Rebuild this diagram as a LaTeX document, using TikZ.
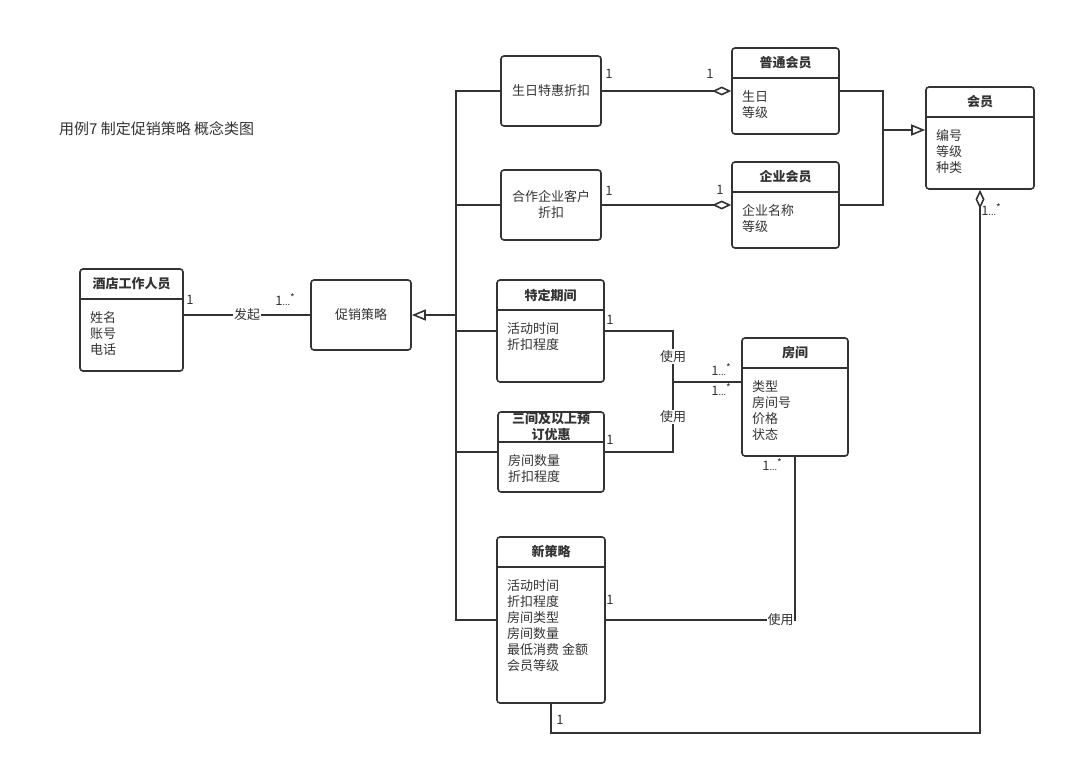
\documentclass[tikz,border=0pt]{standalone}
\usepackage{fontspec}
\setmainfont{Noto Sans CJK SC}
\usetikzlibrary{arrows.meta,fit}
\definecolor{ink}{HTML}{333333}
% multiplicity "1...*"
\newcommand\manyof{1\raisebox{0pt}{\fontsize{9}{9}\selectfont...}\raisebox{4pt}{\fontsize{10}{10}\selectfont *}}
% UML class: name, x1, y1, x2, y2, separator y, title, attributes
\newcommand\umlclass[8]{%
  \node[box, fit={(#2,#3) (#4,#5)}] (#1) {};
  \draw[line] (#2,#6) -- (#4,#6);
  \node[ttl, align=center] (#1-t) at ({(#2+#4)/2},{(#3+#6)/2}) {#7};
  \node[txt, align=left, anchor=north west] (#1-a) at (#2+10,#6+12) {#8};
}
\tikzset{
  box/.style={draw=ink, line width=1.6pt, rounded corners=3pt, inner sep=0pt},
  line/.style={draw=ink, line width=1.6pt},
  txt/.style={text=ink, font=\fontsize{13}{16}\selectfont, inner sep=0pt},
  ttl/.style={text=ink, font=\fontsize{13}{16}\selectfont\bfseries, inner sep=0pt},
  lbl/.style={txt, fill=white, inner sep=1pt},
  gen/.style={-{Triangle[open, length=14pt, width=11pt]}},
  agg/.style={{Diamond[open, length=19pt, width=9pt]}-},
  aggend/.style={-{Diamond[open, length=19pt, width=9pt]}},
}
\begin{document}
\begin{tikzpicture}[x=1pt, y=-1pt]
\useasboundingbox (0,0) rectangle (1066,765);

\node[txt, anchor=west, font=\fontsize{15}{18}\selectfont] (heading) at (59,129) {用例7 制定促销策略 概念类图};

% classes
\umlclass{staff}{80}{269}{183}{371}{299}{酒店工作人员}{姓名\\账号\\电话}
\umlclass{ordinary}{732}{48}{839}{134}{78}{普通会员}{生日\\等级}
\umlclass{corpm}{732}{162}{839}{248}{192}{企业会员}{企业名称\\等级}
\umlclass{member}{926}{87}{1034}{189}{117}{会员}{编号\\等级\\种类}
\umlclass{period}{497}{280}{604}{382}{310}{特定期间}{活动时间\\折扣程度}
\umlclass{multi}{498}{412}{604}{492}{442}{三间及以上预\\订优惠}{房间数量\\折扣程度}
\umlclass{room}{742}{338}{848}{456}{368}{房间}{类型\\房间号\\价格\\状态}
\umlclass{newp}{497}{537}{605}{703}{567}{新策略}{活动时间\\折扣程度\\房间类型\\房间数量\\最低消费 金额\\会员等级}

% plain boxes
\node[box, txt, draw=ink, minimum width=100, minimum height=70] (promo) at (361,315) {促销策略};
\node[box, txt, draw=ink, minimum width=100, minimum height=70] (bday) at (551,91) {生日特惠折扣};
\node[box, txt, draw=ink, minimum width=100, minimum height=70, align=center] (corp) at (551,205) {合作企业客户\\折扣};

% staff -- promotion
\draw[line] (staff.east |- promo.west) -- (promo.west)
  node[lbl, pos=0.5] (lfaqi) {发起};
\node[txt] (m1) at (190,300) {1};
\node[txt] (m2) at (285,300) {\manyof};

% promotion subclasses via trunk
\coordinate (trunk) at (456,315);
\draw[line] (bday.west) -| (trunk);
\draw[line] (corp.west) -| (trunk);
\draw[line] (period.west) -| (trunk);
\draw[line] (multi.west) -| (trunk);
\draw[line] (newp.west) -| (trunk);
\draw[line, gen] (trunk) -- (promo.east);

% discounts -- member kinds
\draw[line, aggend] (bday.east) -- (ordinary.west);
\draw[line, aggend] (corp.east) -- (corpm.west);
\node[txt] (m3) at (609,74) {1};
\node[txt] (m4) at (710,74) {1};
\node[txt] (m5) at (609,191) {1};
\node[txt] (m6) at (720,190) {1};

% member kinds -- member
\coordinate (mj) at (883,130);
\draw[line] (ordinary.east) -| (mj);
\draw[line] (corpm.east) -| (mj);
\draw[line, gen] (mj) -- (member.west |- mj);

% period / multi -- room
\coordinate (rj) at (673,382);
\draw[line] (period.east) -| (rj) node[lbl, pos=0.75] (use1) {使用};
\draw[line] (multi.east) -| (rj) node[lbl, pos=0.75] (use2) {使用};
\draw[line] (rj) -- (room.west |- rj);
\node[txt] (m7) at (610,320) {1};
\node[txt] (m8) at (610,440) {1};
\node[txt] (m9) at (721,370) {\manyof};
\node[txt] (m10) at (721,390) {\manyof};

% room -- new strategy
\draw[line] (room.south) |- (newp.east) node[lbl, pos=0.5, anchor=east, inner sep=0.5pt] (use3) {使用};
\node[txt] (m11) at (772,465) {\manyof};
\node[txt] (m12) at (610,600) {1};

% new strategy -- member
\coordinate (bl) at (551,733);
\draw[line, agg] (member.south) |- (bl) -- (newp.south);
\node[txt] (m13) at (560,720) {1};
\node[txt] (m14) at (991,210) {\manyof};
\end{tikzpicture}
\end{document}
